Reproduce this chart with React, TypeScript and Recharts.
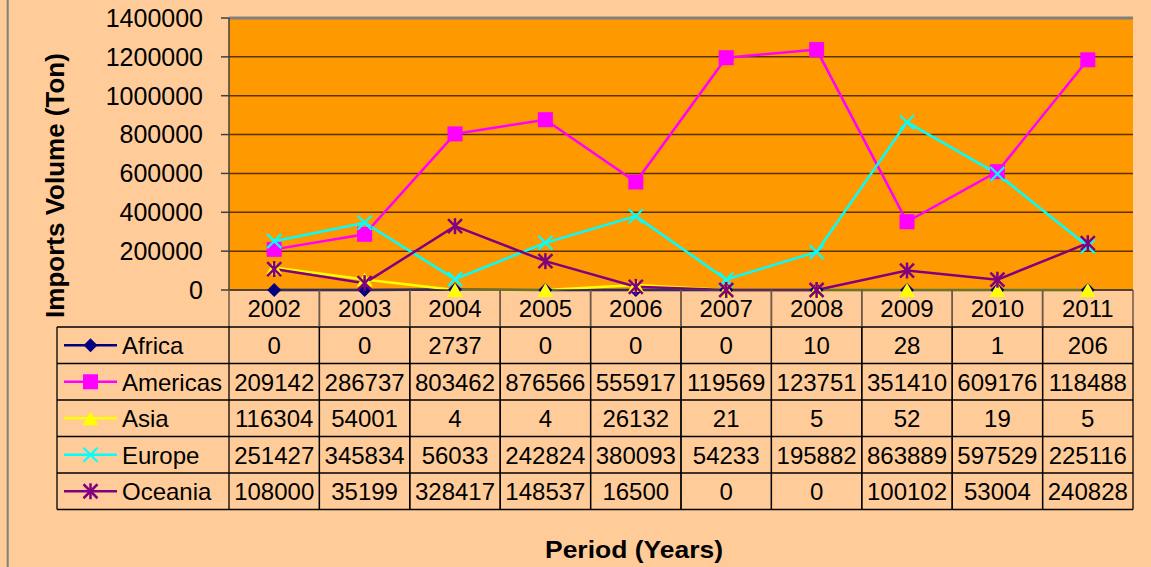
import React from 'react';
import { LineChart, Line, XAxis, YAxis, CartesianGrid, ReferenceLine } from 'recharts';

const years = ['2002', '2003', '2004', '2005', '2006', '2007', '2008', '2009', '2010', '2011'];
const africa = [0, 0, 2737, 0, 0, 0, 10, 28, 1, 206];
const americas = [209142, 286737, 803462, 876566, 555917, 1195690, 1237510, 351410, 609176, 1184880];
const asia = [116304, 54001, 4, 4, 26132, 21, 5, 52, 19, 5];
const europe = [251427, 345834, 56033, 242824, 380093, 54233, 195882, 863889, 597529, 225116];
const oceania = [108000, 35199, 328417, 148537, 16500, 0, 0, 100102, 53004, 240828];
const yTicks = [0, 200000, 400000, 600000, 800000, 1000000, 1200000, 1400000];

type MarkerKind = 'diamond' | 'square' | 'triangle' | 'x' | 'star';
const series: { key: string; name: string; values: number[]; color: string; marker: MarkerKind }[] = [
  { key: 'africa', name: 'Africa', values: africa, color: '#000080', marker: 'diamond' },
  { key: 'americas', name: 'Americas', values: americas, color: '#FF00FF', marker: 'square' },
  { key: 'asia', name: 'Asia', values: asia, color: '#FFFF00', marker: 'triangle' },
  { key: 'europe', name: 'Europe', values: europe, color: '#00FFFF', marker: 'x' },
  { key: 'oceania', name: 'Oceania', values: oceania, color: '#800080', marker: 'star' },
];

const data = years.map((y, i) => {
  const row: Record<string, string | number> = { year: y };
  series.forEach((s) => (row[s.key] = s.values[i]));
  return row;
});

const FONT = '"Liberation Sans", Arial, sans-serif';
const COL_W = 90.4;
const HEADER_TOP = 290;
const ROW_TOP = 327;
const ROW_H = 36.5;

const fmt = (v: number) => {
  const s = String(v);
  return s.length > 6 ? s.slice(0, 6) : s;
};

function Marker({ kind, cx, cy, color }: { kind: MarkerKind; cx: number; cy: number; color: string }) {
  const r = 7;
  switch (kind) {
    case 'diamond':
      return <polygon points={`${cx},${cy - r} ${cx + r},${cy} ${cx},${cy + r} ${cx - r},${cy}`} fill={color} />;
    case 'square':
      return <rect x={cx - 7.5} y={cy - 7.5} width={15} height={15} fill={color} />;
    case 'triangle':
      return <polygon points={`${cx},${cy - 7} ${cx + 8},${cy + 7} ${cx - 8},${cy + 7}`} fill={color} />;
    case 'x':
      return (
        <g stroke={color} strokeWidth={2.2}>
          <line x1={cx - r} y1={cy - r} x2={cx + r} y2={cy + r} />
          <line x1={cx - r} y1={cy + r} x2={cx + r} y2={cy - r} />
        </g>
      );
    case 'star':
    default:
      return (
        <g stroke={color} strokeWidth={2.5}>
          <line x1={cx - r} y1={cy - r} x2={cx + r} y2={cy + r} />
          <line x1={cx - r} y1={cy + r} x2={cx + r} y2={cy - r} />
          <line x1={cx} y1={cy - r - 1} x2={cx} y2={cy + r + 1} />
        </g>
      );
  }
}

function TableColumn(props: any) {
  const { x, payload, index } = props;
  const l = x - COL_W / 2;
  const r = x + COL_W / 2;
  const bottom = ROW_TOP + ROW_H * series.length;
  return (
    <g fontFamily={FONT}>
      <line x1={l} y1={HEADER_TOP} x2={l} y2={ROW_TOP} stroke="#6b5a48" strokeWidth={1.5} />
      <line x1={r} y1={HEADER_TOP} x2={r} y2={ROW_TOP} stroke="#6b5a48" strokeWidth={1.5} />
      <text x={x} y={HEADER_TOP + 27} textAnchor="middle" fontSize={24} fill="#000">
        {payload.value}
      </text>
      {series.map((s, ri) => {
        const top = ROW_TOP + ri * ROW_H;
        return (
          <g key={s.key}>
            <line x1={l} y1={top} x2={r} y2={top} stroke="#000" strokeWidth={1.3} />
            <text x={x} y={top + ROW_H / 2 + 9} textAnchor="middle" fontSize={24} fill="#000">
              {fmt(s.values[index])}
            </text>
          </g>
        );
      })}
      <line x1={l} y1={bottom} x2={r} y2={bottom} stroke="#000" strokeWidth={1.3} />
      <line x1={l} y1={ROW_TOP} x2={l} y2={bottom} stroke="#000" strokeWidth={1.3} />
      <line x1={r} y1={ROW_TOP} x2={r} y2={bottom} stroke="#000" strokeWidth={1.3} />
    </g>
  );
}

function Overlay() {
  const left = 57;
  const right = 229;
  const bottom = ROW_TOP + ROW_H * series.length;
  return (
    <svg width={1151} height={567} style={{ position: 'absolute', left: 0, top: 0, pointerEvents: 'none' }}>
      <line x1={7.7} y1={0} x2={7.7} y2={567} stroke="#7f7f7f" strokeWidth={2} />
      <g fontFamily={FONT}>
        {series.map((s, ri) => {
          const top = ROW_TOP + ri * ROW_H;
          const cy = top + ROW_H / 2;
          return (
            <g key={s.key}>
              <line x1={left} y1={top} x2={right} y2={top} stroke="#000" strokeWidth={1.3} />
              <line x1={64} y1={cy} x2={117} y2={cy} stroke={s.color} strokeWidth={2.5} />
              <Marker kind={s.marker} cx={90.5} cy={cy} color={s.color} />
              <text x={122} y={cy + 9} fontSize={24} fill="#000">
                {s.name}
              </text>
            </g>
          );
        })}
        <line x1={left} y1={bottom} x2={right} y2={bottom} stroke="#000" strokeWidth={1.3} />
        <line x1={left} y1={ROW_TOP} x2={left} y2={bottom} stroke="#000" strokeWidth={1.3} />
        <text
          x={55}
          y={185.5}
          transform="rotate(-90 55 185.5)"
          textAnchor="middle"
          dominantBaseline="central"
          fontSize={26}
          fontWeight="bold"
          fill="#000"
        >
          Imports Volume (Ton)
        </text>
        <text
          x={634}
          y={558}
          textAnchor="middle"
          fontSize={24}
          fontWeight="bold"
          fill="#000"
          textLength={178}
          lengthAdjust="spacingAndGlyphs"
        >
          Period (Years)
        </text>
      </g>
    </svg>
  );
}

export default function App() {
  return (
    <div style={{ position: 'absolute', left: 0, top: 0, width: 1151, height: 567, background: '#FFCC99', overflow: 'hidden' }}>
      <LineChart width={1151} height={567} data={data} margin={{ top: 18, right: 18, bottom: 0, left: 0 }}>
        <CartesianGrid horizontal vertical={false} fill="#FF9900" fillOpacity={1} stroke="#5a3300" strokeWidth={1.5} />
        <XAxis
          dataKey="year"
          scale="point"
          padding={{ left: COL_W / 2, right: COL_W / 2 }}
          height={277}
          interval={0}
          tickLine={false}
          tickSize={0}
          tickMargin={0}
          axisLine={{ stroke: '#404040', strokeWidth: 1.5 }}
          tick={<TableColumn />}
        />
        <YAxis
          width={229}
          domain={[0, 1400000]}
          ticks={yTicks}
          interval={0}
          tickSize={8}
          tickMargin={18}
          axisLine={{ stroke: '#404040', strokeWidth: 1.5 }}
          tickLine={{ stroke: '#404040', strokeWidth: 1.5 }}
          tick={{ fontSize: 25, fill: '#000', fontFamily: FONT }}
        />
        <YAxis
          yAxisId="r"
          orientation="right"
          width={0}
          domain={[0, 1400000]}
          tick={false}
          tickLine={false}
          axisLine={{ stroke: '#808080', strokeWidth: 3 }}
        />
        <ReferenceLine y={1400000} stroke="#808080" strokeWidth={3} />
        {series.map((s) => (
          <Line
            key={s.key}
            dataKey={s.key}
            name={s.name}
            type="linear"
            stroke={s.color}
            strokeWidth={2.5}
            isAnimationActive={false}
            dot={(p: any) => <Marker key={`${s.key}-${p.index}`} kind={s.marker} cx={p.cx} cy={p.cy} color={s.color} />}
            activeDot={false}
          />
        ))}
      </LineChart>
      <Overlay />
    </div>
  );
}
